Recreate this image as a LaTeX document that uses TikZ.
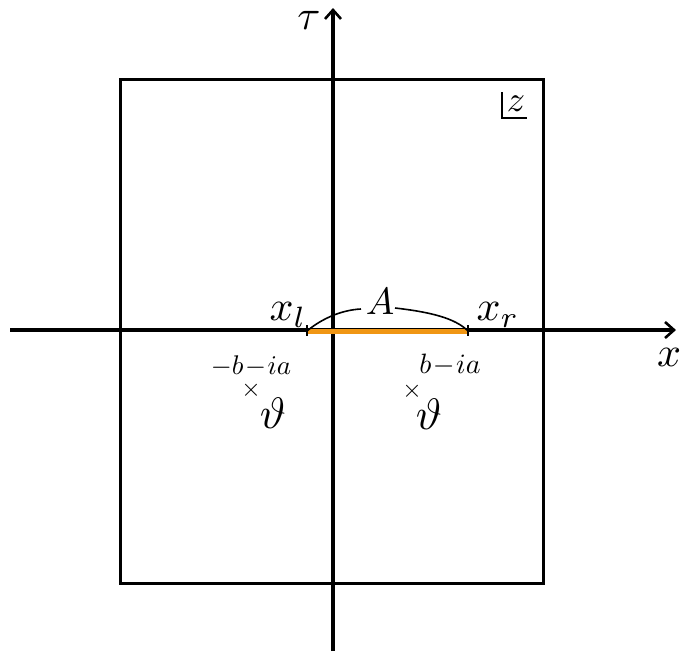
\documentclass[tikz,border=0pt]{standalone}
\usetikzlibrary{arrows.meta}
\newcommand{\sclmath}[2]{\scalebox{#1}{$#2$}}
\begin{document}
\begin{tikzpicture}[x=1pt,y=-1pt,
  axis/.style={line width=3.2pt,-{Straight Barb[length=9pt,width=16pt,line width=2.6pt]}},
  lbl/.style={inner sep=0pt}]
\useasboundingbox (0,0) rectangle (681,654);
% box
\draw[line width=3pt] (120,79) rectangle (543,583);
% axes
\coordinate (xs) at (10,330);
\coordinate (xe) at (676,330);
\coordinate (ys) at (333,651);
\coordinate (ye) at (333,8);
\draw[axis] (xs) -- (xe);
\draw[axis] (ys) -- (ye);
\node[lbl] (tau) at (309,20) {\sclmath{4.2}{\tau}};
\node[lbl] (xlab) at (669,357) {\sclmath{4.2}{x}};
% orange segment
\coordinate (L) at (307,331);
\coordinate (R) at (468,331);
\draw[line width=5pt, color={rgb,255:red,240;green,150;blue,20}] (L) -- (R);
\draw[line width=2pt] (307,325) -- (307,336) (468,325) -- (468,336);
% labels xl, xr, A
\node[lbl] (xl) at (288,315) {\sclmath{4.2}{x_l}};
\node[lbl] (xr) at (498,315) {\sclmath{4.2}{x_r}};
\node[lbl] (A) at (380,302) {\sclmath{3.8}{A}};
\draw[line width=1.6pt] (L) .. controls (320,320) and (340,310) .. (361,309);
\draw[line width=1.6pt] (395,308) .. controls (430,312) and (455,318) .. (R);
% poles
\node[lbl] (pl) at (251,366) {\sclmath{2.7}{-b\!-\!ia}};
\node[lbl] (pr) at (450,365) {\sclmath{2.8}{b\!-\!ia}};
\node[lbl] (cl) at (251,390) {\sclmath{2.5}{\times}};
\node[lbl] (cr) at (412,391) {\sclmath{2.5}{\times}};
\node[lbl] (tl) at (273,413) {\sclmath{4.4}{\vartheta}};
\node[lbl] (tr) at (429,414) {\sclmath{4.4}{\vartheta}};
% z symbol
\node[lbl] (z) at (516,104) {\sclmath{3.6}{z}};
\draw[line width=1.6pt] (502,92) -- (502,118) -- (527,118);
\end{tikzpicture}
\end{document}
